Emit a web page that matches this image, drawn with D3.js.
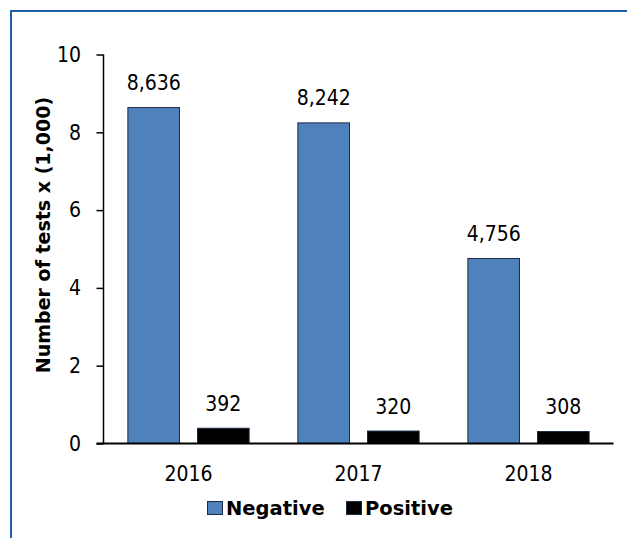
<!DOCTYPE html>
<html>
<head>
<meta charset="utf-8">
<script src="https://cdn.jsdelivr.net/npm/d3@7/dist/d3.min.js"></script>
<style>
  html, body { margin: 0; padding: 0; background: #ffffff; }
  svg { display: block; }
  text { font-family: "DejaVu Sans", sans-serif; fill: #000; }
  .num { font-family: "DejaVu Sans Condensed", "DejaVu Sans", sans-serif; font-stretch: condensed; font-size: 21px; }
</style>
</head>
<body>
<svg id="chart" width="627" height="538"></svg>
<script>
// Tests per year (values in thousands)
const years = ["2016", "2017", "2018"];
const seriesNames = ["Negative", "Positive"];
const negative = [8.636, 8.242, 4.756];
const positive = [0.392, 0.320, 0.308];
const yTicks = [0, 2, 4, 6, 8, 10];
const seriesColors = ["#4f81bd", "#000000"];

const svg = d3.select("#chart");
const W = 627, H = 538;

// outer frame: blue rule on the left and top edges
svg.append("line").attr("x1", 11).attr("x2", 11).attr("y1", 11).attr("y2", H)
  .attr("stroke", "#1f5fa8").attr("stroke-width", 2);
svg.append("line").attr("x1", 10).attr("x2", W).attr("y1", 11).attr("y2", 11)
  .attr("stroke", "#1f5fa8").attr("stroke-width", 2);

const plot = { left: 103.5, right: 613.5, top: 54.5, bottom: 443.5 };

const x0 = d3.scaleBand().domain(years).range([plot.left, plot.right]).padding(0);
const x1 = d3.scaleBand().domain(seriesNames).range([0, x0.bandwidth()])
  .paddingInner(0.2586).paddingOuter(0.35);
const y = d3.scaleLinear().domain([0, 10]).range([plot.bottom, plot.top]);

const rows = years.map((yr, i) => ({ year: yr, values: [negative[i], positive[i]] }));

// bars
const groups = svg.append("g").selectAll("g").data(rows).join("g")
  .attr("transform", d => `translate(${x0(d.year)},0)`);

groups.selectAll("rect").data(d => d.values.map((v, k) => ({ key: seriesNames[k], v, k })))
  .join("rect")
  .attr("x", d => x1(d.key))
  .attr("y", d => y(d.v))
  .attr("width", x1.bandwidth())
  .attr("height", d => y(0) - y(d.v))
  .attr("fill", d => seriesColors[d.k])
  .attr("stroke", "#1d2c44")
  .attr("stroke-width", 1);

// value labels
const fmt = d3.format(",");
groups.selectAll("text.val").data(d => d.values.map((v, k) => ({ key: seriesNames[k], v, k })))
  .join("text").attr("class", "val num")
  .attr("x", d => x1(d.key) + x1.bandwidth() / 2)
  .attr("y", d => y(d.v) - 17.5)
  .attr("text-anchor", "middle")
  .text(d => fmt(Math.round(d.v * 1000)));

// y axis
const yAxis = svg.append("g").attr("transform", `translate(${plot.left},0)`)
  .call(d3.axisLeft(y).tickValues(yTicks).tickSize(7).tickPadding(15.5).tickFormat(d3.format("d")));
yAxis.select(".domain").attr("stroke", "#000").attr("stroke-width", 1.5)
  .attr("d", `M0,${plot.top}V${plot.bottom}`);
yAxis.selectAll(".tick line").attr("stroke", "#000").attr("stroke-width", 1.5);
yAxis.selectAll(".tick text").attr("class", "num").attr("font-family", null).attr("font-size", null);

// x axis baseline
const xAxis = svg.append("g").attr("transform", `translate(0,${plot.bottom})`)
  .call(d3.axisBottom(x0).tickSize(0));
xAxis.select(".domain").attr("stroke", "#000").attr("stroke-width", 2)
  .attr("d", `M${plot.left - 7},0H${plot.right}`);
xAxis.selectAll(".tick text").attr("class", "num").attr("font-family", null).attr("font-size", null)
  .attr("dy", null).attr("y", 37.5);

// y axis title
svg.append("text")
  .attr("transform", `translate(50,235) rotate(-90)`)
  .attr("text-anchor", "middle")
  .style("font-size", "19px").style("font-weight", "bold")
  .text("Number of tests x (1,000)");

// legend
const legend = svg.append("g").attr("transform", "translate(207,501)");
const items = [{ name: seriesNames[0], dx: 0 }, { name: seriesNames[1], dx: 139 }];
items.forEach((it, k) => {
  const g = legend.append("g").attr("transform", `translate(${it.dx},0)`);
  g.append("rect").attr("x", 0.5).attr("y", 0.5).attr("width", 15).attr("height", 13)
    .attr("fill", seriesColors[k]).attr("stroke", "#1d2c44").attr("stroke-width", 1);
  g.append("text").attr("x", 19).attr("y", 14)
    .style("font-size", "19.5px").style("font-weight", "bold").text(it.name);
});
</script>
</body>
</html>
